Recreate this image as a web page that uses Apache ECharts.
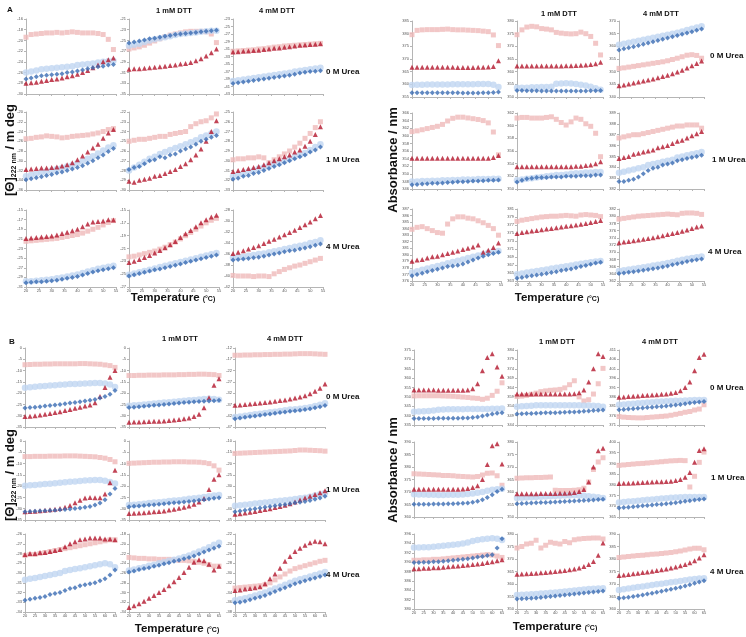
<!DOCTYPE html>
<html><head><meta charset="utf-8">
<script src="https://cdn.jsdelivr.net/npm/echarts@6/dist/echarts.min.js"></script>
<style>html,body{margin:0;padding:0;background:#fff}#c{width:746px;height:637px}</style>
</head><body><div id="c"></div><script>
// ---------- DATA ----------
const tempA = [20,22,24,26,28,30,32,34,36,38,40,42,44,46,48,50,52,54];
const tempB = [20,22.5,25,27.5,30,32.5,35,37.5,40,42.5,45,47.5,50,52.5,55,57.5,60,62.5,65];
const colTitles = ['', '1 mM DTT', '4 mM DTT'];
const rowTitles = ['0 M Urea', '1 M Urea', '4 M Urea'];
// each subplot: [pink squares, light-blue circles, red triangles, dark-blue diamonds]
// ---- Panel A, CD ----
const cdA_u0_d0 = [
 [-19.4,-18.9,-18.8,-18.7,-18.6,-18.6,-18.5,-18.6,-18.5,-18.4,-18.5,-18.6,-18.6,-18.6,-18.7,-18.9,-19.8,-21.7],
 [-26.0,-25.8,-25.6,-25.4,-25.3,-25.2,-25.1,-25.0,-24.9,-24.8,-24.6,-24.5,-24.4,-24.3,-24.1,-24.0,-23.9,-23.8],
 [-28.0,-27.9,-27.8,-27.6,-27.5,-27.3,-27.2,-27.0,-26.8,-26.6,-26.3,-26.0,-25.6,-25.1,-24.6,-24.0,-23.6,-23.3],
 [-27.2,-27.0,-26.8,-26.6,-26.5,-26.4,-26.3,-26.2,-26.0,-25.9,-25.7,-25.5,-25.3,-25.1,-24.9,-24.8,-24.6,-24.5]];
const cdA_u0_d1 = [
 [-26.6,-26.4,-26.2,-25.9,-25.5,-25.1,-24.7,-24.3,-24.0,-23.8,-23.6,-23.4,-23.3,-23.3,-23.3,-23.4,-23.8,-25.4],
 [-26.0,-25.8,-25.6,-25.3,-25.0,-24.8,-24.6,-24.4,-24.2,-24.0,-23.8,-23.7,-23.6,-23.5,-23.4,-23.3,-23.2,-23.2],
 [-30.4,-30.3,-30.3,-30.2,-30.1,-30.0,-29.9,-29.8,-29.7,-29.6,-29.4,-29.3,-29.1,-28.8,-28.4,-27.9,-27.3,-26.6],
 [-25.5,-25.3,-25.1,-24.9,-24.7,-24.6,-24.4,-24.2,-24.1,-23.9,-23.8,-23.7,-23.6,-23.5,-23.4,-23.3,-23.2,-23.1]];
const cdA_u0_d4 = [
 [-31.6,-31.5,-31.4,-31.3,-31.2,-31.0,-30.9,-30.7,-30.5,-30.4,-30.2,-30.1,-30.0,-29.9,-29.8,-29.7,-29.6,-29.5],
 [-39.5,-39.3,-39.1,-38.9,-38.7,-38.5,-38.3,-38.1,-37.9,-37.7,-37.5,-37.3,-37.0,-36.8,-36.6,-36.4,-36.2,-36.0],
 [-31.8,-31.7,-31.6,-31.5,-31.4,-31.3,-31.1,-31.0,-30.8,-30.7,-30.5,-30.4,-30.2,-30.0,-29.9,-29.8,-29.7,-29.6],
 [-40.2,-40.0,-39.8,-39.6,-39.4,-39.2,-39.0,-38.8,-38.6,-38.4,-38.2,-38.0,-37.7,-37.4,-37.2,-37.0,-36.9,-36.8]];
const cdA_u1_d0 = [
 [-25.5,-25.4,-25.2,-25.1,-24.9,-25.0,-25.1,-25.3,-25.2,-25.0,-24.9,-24.8,-24.7,-24.5,-24.3,-24.0,-23.6,-23.4],
 [-33.2,-32.9,-32.6,-32.4,-32.2,-32.0,-31.7,-31.5,-31.2,-30.9,-30.5,-30.1,-29.6,-29.1,-28.5,-27.9,-27.3,-26.8],
 [-31.8,-31.7,-31.6,-31.5,-31.5,-31.4,-31.3,-31.1,-30.8,-30.4,-29.8,-29.0,-28.2,-27.4,-26.6,-25.4,-24.3,-23.6],
 [-33.9,-33.7,-33.5,-33.3,-33.0,-32.8,-32.5,-32.3,-32.0,-31.7,-31.4,-31.0,-30.5,-30.0,-29.4,-28.8,-28.1,-27.5]];
const cdA_u1_d1 = [
 [-25.0,-24.9,-24.8,-24.8,-24.7,-24.6,-24.5,-24.5,-24.3,-24.2,-24.1,-24.0,-23.5,-23.2,-23.0,-22.9,-22.6,-22.2],
 [-28.0,-27.7,-27.4,-27.1,-26.8,-26.6,-26.3,-26.1,-25.9,-25.7,-25.5,-25.3,-25.1,-24.9,-24.6,-24.4,-24.2,-24.0],
 [-29.1,-29.2,-29.0,-28.9,-28.8,-28.6,-28.5,-28.3,-28.1,-27.9,-27.6,-27.3,-26.9,-26.4,-25.8,-25.0,-24.0,-22.9],
 [-27.9,-27.7,-27.6,-27.3,-27.0,-26.9,-26.6,-26.7,-26.4,-26.3,-26.0,-25.8,-25.6,-25.3,-25.0,-24.8,-24.6,-24.4]];
const cdA_u1_d4 = [
 [-29.9,-29.8,-29.8,-29.7,-29.7,-29.6,-29.7,-30.2,-29.9,-29.6,-29.3,-29.0,-28.6,-28.2,-27.7,-27.2,-26.6,-26.0],
 [-31.6,-31.4,-31.3,-31.1,-31.0,-30.8,-30.7,-30.5,-30.3,-30.2,-30.0,-29.8,-29.6,-29.4,-29.2,-28.9,-28.6,-28.3],
 [-31.1,-31.0,-30.9,-30.8,-30.7,-30.6,-30.4,-30.2,-30.0,-29.8,-29.6,-29.4,-29.1,-28.9,-28.5,-28.0,-27.3,-26.5],
 [-31.9,-31.8,-31.6,-31.5,-31.3,-31.2,-31.0,-30.8,-30.6,-30.4,-30.2,-30.0,-29.8,-29.6,-29.4,-29.1,-28.9,-28.6]];
const cdA_u4_d0 = [
 [-21.5,-21.4,-21.3,-21.2,-21.1,-21.0,-20.9,-20.7,-20.5,-20.3,-20.1,-19.8,-19.4,-19.0,-18.6,-18.1,-17.6,-17.2],
 [-29.8,-29.8,-29.7,-29.6,-29.5,-29.4,-29.2,-29.0,-28.8,-28.6,-28.4,-28.1,-27.8,-27.5,-27.2,-27.0,-26.8,-26.6],
 [-20.9,-20.8,-20.7,-20.6,-20.5,-20.4,-20.2,-19.9,-19.6,-19.3,-19.0,-18.5,-17.9,-17.5,-17.4,-17.3,-17.0,-17.1],
 [-30.1,-30.0,-29.9,-29.9,-29.8,-29.7,-29.6,-29.4,-29.2,-29.0,-28.8,-28.5,-28.2,-27.9,-27.6,-27.4,-27.2,-27.0]];
const cdA_u4_d1 = [
 [-22.3,-22.2,-22.0,-21.8,-21.6,-21.4,-21.1,-20.8,-20.4,-20.0,-19.5,-19.0,-18.5,-18.0,-17.5,-17.0,-16.6,-16.3],
 [-25.1,-24.9,-24.7,-24.5,-24.3,-24.1,-23.9,-23.7,-23.5,-23.3,-23.1,-22.9,-22.7,-22.5,-22.3,-22.1,-21.9,-21.7],
 [-23.2,-23.0,-22.7,-22.4,-22.1,-21.7,-21.3,-20.9,-20.4,-19.9,-19.3,-18.7,-18.2,-17.6,-17.0,-16.5,-16.1,-15.8],
 [-25.3,-25.1,-24.9,-24.7,-24.5,-24.3,-24.2,-24.0,-23.8,-23.6,-23.4,-23.2,-23.0,-22.8,-22.6,-22.4,-22.2,-22.0]];
const cdA_u4_d4 = [
 [-39.9,-40.0,-40.0,-40.0,-40.1,-40.0,-40.0,-40.1,-39.6,-39.2,-38.8,-38.5,-38.2,-38.0,-37.7,-37.4,-37.1,-36.8],
 [-36.7,-36.6,-36.5,-36.3,-36.2,-36.0,-35.9,-35.7,-35.5,-35.3,-35.1,-34.9,-34.7,-34.5,-34.3,-34.0,-33.8,-33.5],
 [-35.9,-35.7,-35.4,-35.1,-34.8,-34.5,-34.1,-33.7,-33.3,-32.9,-32.5,-32.1,-31.7,-31.2,-30.7,-30.2,-29.6,-29.0],
 [-37.1,-37.0,-36.9,-36.8,-36.7,-36.6,-36.4,-36.2,-36.0,-35.8,-35.6,-35.4,-35.3,-35.1,-34.9,-34.7,-34.4,-34.2]];
const cdA_yAxes = [[-30,-16,2],[-35,-21,2],[-43,-23,2],[-36,-20,2],[-30,-22,1],[-33,-25,1],[-31,-15,2],[-27,-15,2],[-42,-28,2]];

// ---- Panel A, absorbance ----
const absA_u0_d0 = [
 [379.6,381.3,381.5,381.6,381.6,381.6,381.7,381.8,381.6,381.5,381.5,381.4,381.3,381.2,381.0,380.8,379.5,375.3],
 [359.7,359.8,359.8,359.9,359.9,359.9,359.9,359.9,360.0,360.0,360.0,360.0,360.0,360.1,360.1,360.1,359.8,358.9],
 [366.7,366.7,366.7,366.7,366.7,366.7,366.7,366.7,366.7,366.6,366.6,366.6,366.6,366.7,366.7,366.8,367.0,369.3],
 [356.7,356.7,356.7,356.7,356.7,356.7,356.7,356.7,356.7,356.7,356.6,356.6,356.6,356.6,356.7,356.7,356.8,357.0]];
const absA_u0_d1 = [
 [374.6,376.5,377.6,377.9,377.7,377.0,376.8,376.5,375.5,375.2,375.0,374.9,375.0,375.6,375.0,373.9,371.2,366.6],
 [353.7,353.7,353.7,353.8,353.8,353.9,353.9,354.0,355.2,355.3,355.4,355.3,355.1,354.8,354.5,354.0,353.5,352.9],
 [362.2,362.2,362.2,362.2,362.2,362.2,362.2,362.2,362.2,362.2,362.3,362.3,362.4,362.5,362.6,362.8,363.1,363.7],
 [352.6,352.6,352.5,352.5,352.5,352.4,352.4,352.4,352.4,352.4,352.4,352.4,352.4,352.4,352.4,352.5,352.5,352.6]];
const absA_u0_d4 = [
 [351.3,351.5,351.8,352.1,352.4,352.7,353.0,353.3,353.6,353.9,354.3,354.8,355.3,355.9,356.5,356.7,356.4,355.3],
 [360.6,361.0,361.4,361.8,362.2,362.6,363.0,363.4,363.8,364.2,364.6,365.0,365.4,365.9,366.4,366.9,367.4,367.9],
 [344.4,344.7,345.1,345.5,345.9,346.3,346.7,347.1,347.6,348.1,348.6,349.2,349.9,350.6,351.4,352.3,353.2,354.2],
 [358.6,359.0,359.4,359.8,360.3,360.8,361.3,361.8,362.3,362.8,363.3,363.8,364.3,364.8,365.3,365.8,366.3,366.8]];
const absA_u1_d0 = [
 [361.1,361.3,361.6,361.9,362.2,362.5,363.0,363.9,364.6,364.9,364.9,364.7,364.5,364.3,364.0,363.4,361.0,355.0],
 [348.0,348.0,348.1,348.1,348.2,348.2,348.3,348.3,348.4,348.4,348.5,348.5,348.5,348.6,348.6,348.6,348.7,348.7],
 [354.1,354.1,354.1,354.1,354.1,354.1,354.1,354.1,354.1,354.1,354.1,354.1,354.1,354.1,354.1,354.1,354.3,354.8],
 [347.1,347.2,347.3,347.4,347.5,347.5,347.6,347.7,347.8,347.9,347.9,348.0,348.1,348.1,348.2,348.3,348.3,348.4]];
const absA_u1_d1 = [
 [361.2,361.3,361.3,361.2,361.2,361.2,361.3,361.4,361.0,360.5,360.1,360.6,361.2,361.0,360.3,359.9,358.8,355.1],
 [351.4,351.5,351.6,351.7,351.8,351.9,352.0,352.1,352.2,352.2,352.3,352.4,352.5,352.5,352.6,352.6,352.7,352.7],
 [353.5,353.5,353.5,353.5,353.5,353.5,353.5,353.5,353.5,353.5,353.5,353.5,353.6,353.6,353.7,353.8,354.0,354.3],
 [351.1,351.4,351.6,351.7,351.8,351.8,351.8,351.9,351.9,351.9,352.0,352.0,352.0,352.1,352.1,352.1,352.2,352.2]];
const absA_u1_d4 = [
 [386.7,386.8,386.9,387.0,387.0,387.1,387.2,387.3,387.4,387.5,387.6,387.7,387.8,387.8,387.9,387.9,387.9,387.6],
 [383.5,383.6,383.7,383.8,383.9,384.0,384.2,384.3,384.4,384.5,384.6,384.7,384.9,385.0,385.1,385.2,385.3,385.4],
 [384.8,384.9,385.0,385.2,385.3,385.4,385.5,385.6,385.8,385.9,386.0,386.2,386.4,386.5,386.7,386.9,387.1,387.3],
 [382.7,382.7,382.8,382.9,383.1,383.4,383.7,383.9,384.0,384.2,384.3,384.4,384.6,384.7,384.8,384.9,385.0,385.1]];
const absA_u4_d0 = [
 [383.9,384.2,384.3,384.0,383.7,383.4,383.3,384.7,385.5,385.8,385.8,385.6,385.5,385.2,384.9,384.5,384.0,383.0],
 [377.3,377.5,377.7,377.9,378.1,378.3,378.5,378.7,378.9,379.1,379.3,379.5,379.7,379.9,380.1,380.3,380.5,380.6],
 [379.0,379.2,379.3,379.5,379.7,379.8,380.0,380.2,380.4,380.6,380.8,381.0,381.2,381.5,380.4,380.7,381.1,381.8],
 [376.8,377.0,377.2,377.4,377.6,377.8,378.0,378.2,378.3,378.4,378.6,378.9,379.2,379.5,379.8,380.0,380.2,380.4]];
const absA_u4_d1 = [
 [377.9,378.2,378.4,378.6,378.8,379.0,379.1,379.2,379.2,379.3,379.4,379.3,379.2,379.5,379.6,379.5,379.4,379.1],
 [364.7,364.9,365.1,365.3,365.5,365.7,365.9,366.1,366.3,366.5,366.7,366.9,367.1,367.3,367.5,367.7,367.9,368.0],
 [374.9,375.1,375.3,375.5,375.6,375.8,376.0,376.1,376.3,376.5,376.7,376.8,377.0,377.2,377.4,377.6,377.9,378.1],
 [363.7,363.9,364.1,364.3,364.5,364.7,364.9,365.1,365.3,365.6,365.8,366.0,366.3,366.6,366.9,367.2,367.5,367.7]];
const absA_u4_d4 = [
 [379.2,379.4,379.6,379.8,380.0,380.1,380.2,380.3,380.4,380.5,380.6,380.5,380.4,380.8,380.9,380.9,380.8,380.5],
 [364.8,365.0,365.2,365.4,365.6,365.8,366.0,366.3,366.5,366.7,367.0,367.3,367.6,367.9,368.2,368.4,368.6,368.8],
 [372.6,372.8,373.0,373.2,373.4,373.6,373.8,374.0,374.3,374.6,374.9,375.2,375.5,375.8,376.2,376.6,377.0,377.3],
 [364.1,364.2,364.4,364.6,364.8,365.0,365.2,365.4,365.6,365.9,366.2,366.5,366.8,367.1,367.4,367.7,367.9,368.1]];
const absA_yAxes = [[355,385,5],[350,380,5],[340,370,5],[346,366,2],[350,362,2],[382,389,1],[376,387,1],[363,381,2],[362,382,2]];

// ---- Panel B, CD ----
const cdB_u0_d0 = [
 [-7.4,-7.3,-7.2,-7.2,-7.1,-7.1,-7.0,-7.0,-7.0,-7.0,-7.0,-6.9,-6.9,-7.0,-7.1,-7.2,-7.5,-7.8,-8.6],
 [-17.6,-17.4,-17.2,-17.0,-16.8,-16.6,-16.5,-16.3,-16.2,-16.0,-15.9,-15.8,-15.7,-15.6,-15.5,-15.5,-15.7,-16.2,-17.3],
 [-30.4,-30.2,-30.0,-29.7,-29.4,-29.0,-28.6,-28.2,-27.7,-27.2,-26.7,-26.2,-25.7,-25.2,-24.3,-21.5,-17.5,-13.0,-10.0],
 [-26.6,-26.4,-26.2,-26.0,-25.7,-25.5,-25.2,-25.0,-24.7,-24.4,-24.1,-23.8,-23.5,-23.2,-22.8,-22.2,-21.5,-20.5,-18.8]];
const cdB_u0_d1 = [
 [-12.2,-12.2,-12.1,-12.1,-12.0,-12.0,-12.0,-11.9,-11.9,-11.9,-11.8,-11.8,-11.7,-11.7,-11.6,-11.6,-11.7,-11.8,-12.2],
 [-25.6,-25.4,-25.2,-25.0,-24.8,-24.6,-24.4,-24.2,-24.0,-23.8,-23.6,-23.4,-23.2,-23.0,-22.8,-22.6,-22.5,-22.6,-22.9],
 [-32.9,-32.8,-32.8,-32.7,-32.6,-32.5,-32.4,-32.3,-32.1,-31.9,-31.7,-31.4,-31.0,-30.4,-29.3,-26.5,-22.0,-16.5,-13.6],
 [-26.4,-26.2,-26.0,-25.8,-25.6,-25.4,-25.2,-25.0,-24.8,-24.6,-24.4,-24.2,-24.0,-23.8,-23.7,-23.6,-23.5,-23.4,-23.2]];
const cdB_u0_d4 = [
 [-15.2,-15.2,-15.1,-15.1,-15.0,-15.0,-14.9,-14.9,-14.8,-14.8,-14.7,-14.7,-14.6,-14.5,-14.5,-14.5,-14.6,-14.7,-14.8],
 [-42.6,-42.3,-42.0,-41.7,-41.4,-41.1,-40.8,-40.5,-40.2,-39.9,-39.6,-39.3,-39.1,-38.9,-38.6,-38.2,-37.7,-37.1,-36.5],
 [-37.4,-37.2,-37.0,-36.8,-36.6,-36.4,-36.1,-35.9,-35.6,-35.3,-35.0,-34.6,-34.2,-33.7,-33.1,-32.3,-31.2,-29.8,-28.0],
 [-43.3,-43.0,-42.7,-42.4,-42.1,-41.8,-41.5,-41.2,-40.9,-40.6,-40.3,-40.0,-39.8,-39.6,-39.3,-38.9,-38.5,-38.0,-37.5]];
const cdB_u1_d0 = [
 [-6.9,-6.9,-6.8,-6.8,-6.8,-6.7,-6.7,-6.7,-6.6,-6.6,-6.6,-6.7,-6.8,-6.9,-7.0,-7.3,-7.6,-8.2,-9.2],
 [-19.8,-19.6,-19.5,-19.3,-19.1,-18.9,-18.7,-18.5,-18.3,-18.1,-17.9,-17.7,-17.5,-17.4,-17.3,-17.3,-17.6,-18.2,-18.8],
 [-31.3,-31.2,-31.1,-30.9,-30.7,-30.5,-30.2,-29.9,-29.4,-28.6,-27.4,-26.2,-25.3,-25.0,-25.1,-25.1,-23.5,-18.5,-13.0],
 [-31.3,-31.2,-31.1,-31.0,-30.9,-30.8,-30.7,-30.5,-30.3,-30.1,-29.9,-29.7,-29.4,-29.0,-28.4,-27.5,-26.0,-23.5,-21.0]];
const cdB_u1_d1 = [
 [-9.9,-9.8,-9.7,-9.6,-9.5,-9.4,-9.4,-9.3,-9.3,-9.2,-9.2,-9.2,-9.3,-9.3,-9.4,-9.6,-10.0,-11.0,-12.9],
 [-28.4,-28.2,-28.0,-27.8,-27.5,-27.3,-27.1,-26.9,-26.6,-26.4,-26.2,-25.9,-25.6,-25.4,-25.1,-24.8,-24.5,-24.2,-23.9],
 [-32.1,-32.0,-31.9,-31.8,-31.6,-31.4,-31.2,-31.0,-30.6,-30.2,-29.8,-29.4,-28.8,-28.0,-27.0,-25.5,-21.5,-17.0,-15.0],
 [-29.1,-28.9,-28.8,-28.6,-28.4,-28.2,-28.0,-27.8,-27.6,-27.4,-27.2,-27.0,-26.8,-26.6,-26.3,-26.0,-25.7,-25.4,-25.1]];
const cdB_u1_d4 = [
 [-15.5,-15.4,-15.3,-15.2,-15.1,-15.0,-14.9,-14.8,-14.7,-14.6,-14.5,-14.4,-14.2,-14.0,-14.0,-14.1,-14.2,-14.3,-14.5],
 [-38.7,-38.5,-38.2,-38.0,-37.7,-37.5,-37.2,-37.0,-36.7,-36.5,-36.2,-36.0,-35.7,-35.4,-35.1,-34.7,-34.2,-33.6,-33.0],
 [-42.5,-42.2,-41.9,-41.6,-41.2,-40.8,-40.4,-40.0,-39.5,-39.0,-38.5,-37.8,-37.0,-36.1,-35.3,-34.5,-33.7,-32.9,-32.0],
 [-41.3,-41.0,-40.7,-40.4,-40.0,-39.7,-39.4,-39.0,-38.7,-38.4,-38.1,-37.8,-37.4,-37.1,-36.8,-36.4,-35.8,-35.2,-34.5]];
const cdB_u4_d0 = [
 [-28.2,-28.1,-28.1,-28.0,-27.9,-27.8,-27.7,-27.6,-27.5,-27.4,-27.3,-27.2,-27.1,-27.0,-26.9,-26.8,-26.7,-26.6,-26.6],
 [-30.7,-30.6,-30.5,-30.4,-30.3,-30.2,-30.1,-30.0,-29.8,-29.7,-29.6,-29.5,-29.4,-29.3,-29.2,-29.1,-29.0,-29.1,-29.4],
 [-28.1,-28.0,-28.0,-27.9,-27.9,-27.8,-27.7,-27.6,-27.3,-27.0,-26.8,-26.6,-26.5,-26.4,-26.4,-26.4,-26.5,-26.5,-26.6],
 [-32.8,-32.7,-32.6,-32.5,-32.4,-32.2,-32.1,-32.0,-31.8,-31.6,-31.5,-31.3,-31.2,-31.1,-31.0,-30.8,-30.6,-30.2,-29.7]];
const cdB_u4_d1 = [
 [-22.8,-22.9,-23.0,-23.0,-23.1,-23.1,-23.2,-23.2,-23.2,-23.3,-23.4,-23.4,-23.5,-23.6,-23.8,-24.0,-24.3,-24.6,-24.6],
 [-25.5,-25.3,-25.0,-24.8,-24.5,-24.3,-24.0,-23.8,-23.5,-23.3,-23.0,-22.7,-22.4,-22.0,-21.6,-21.2,-20.7,-20.2,-19.8],
 [-33.1,-32.7,-32.3,-31.8,-31.2,-30.6,-30.0,-29.4,-28.6,-27.8,-26.9,-25.9,-24.8,-23.8,-23.3,-23.5,-24.2,-25.4,-24.6],
 [-25.8,-25.6,-25.3,-25.1,-24.9,-24.6,-24.4,-24.1,-23.9,-23.6,-23.4,-23.1,-22.8,-22.5,-22.1,-21.7,-21.3,-20.9,-20.5]];
const cdB_u4_d4 = [
 [-33.1,-33.0,-32.9,-32.8,-32.7,-32.6,-32.4,-32.0,-31.4,-30.8,-30.2,-29.6,-29.1,-28.8,-28.5,-28.2,-27.9,-27.6,-27.4],
 [-35.6,-35.4,-35.2,-34.9,-34.6,-34.3,-34.0,-33.6,-33.2,-32.8,-32.4,-32.0,-31.6,-31.3,-31.0,-30.7,-30.4,-30.1,-29.8],
 [-33.6,-33.5,-33.3,-33.2,-33.0,-32.8,-32.2,-31.2,-30.2,-29.0,-27.6,-26.6,-25.6,-24.9,-24.3,-23.8,-23.5,-23.6,-24.0],
 [-36.1,-36.0,-35.8,-35.5,-35.2,-34.9,-34.6,-34.2,-33.8,-33.4,-33.0,-32.6,-32.2,-31.9,-31.6,-31.3,-31.0,-30.7,-30.4]];
const cdB_yAxes = [[-35,0,5],[-35,0,5],[-47,-12,5],[-35,0,5],[-35,0,5],[-45,-10,5],[-34,-26,1],[-34,-18,2],[-38,-22,2]];

// ---- Panel B, absorbance ----
const absB_u0_d0 = [
 [350.5,350.6,350.6,350.6,350.6,350.6,350.5,350.4,350.3,350.1,349.9,349.7,349.4,349.2,348.7,349.3,350.8,353.0,357.5],
 [342.1,342.2,342.3,342.5,342.8,343.2,343.3,343.4,343.4,343.4,343.4,343.5,343.5,343.5,343.5,343.6,343.7,343.7,343.8],
 [353.7,353.7,353.7,353.7,353.7,353.6,353.6,353.6,353.6,353.6,353.6,353.7,354.3,357.0,364.0,371.0,373.0,366.0,361.0],
 [338.5,338.5,338.5,338.5,338.5,338.6,338.6,338.6,338.6,338.6,338.7,338.8,339.0,339.3,339.8,340.4,340.9,341.3,341.5]];
const absB_u0_d1 = [
 [359.2,359.4,359.8,360.4,361.0,361.8,362.2,362.5,362.7,363.0,363.8,365.5,367.6,359.0,356.8,357.5,360.5,366.0,374.2],
 [353.8,354.0,354.1,354.3,354.5,354.6,354.6,354.6,354.6,354.6,354.6,354.6,354.5,354.5,354.4,354.4,354.3,354.1,353.8],
 [360.6,360.6,360.6,360.6,360.6,360.6,360.6,360.6,360.6,360.6,360.6,360.6,360.7,361.2,362.7,367.0,374.0,382.0,380.5],
 [349.9,350.0,350.1,350.2,350.3,350.4,350.5,350.5,350.6,350.7,350.8,350.9,351.0,351.1,351.3,351.5,351.7,351.9,352.0]];
const absB_u0_d4 = [
 [375.5,375.2,375.0,374.9,374.8,374.8,375.0,375.2,375.4,375.6,375.8,376.2,376.7,377.2,377.8,378.2,379.0,379.5,381.8],
 [381.8,382.0,382.2,382.4,382.6,382.8,383.0,383.2,383.4,383.5,383.7,383.8,383.9,384.0,384.1,384.2,384.3,384.3,384.4],
 [385.8,386.0,386.2,386.4,386.5,386.7,386.9,387.0,387.2,387.4,387.6,387.9,388.3,389.3,391.0,394.0,400.0,407.0,408.8],
 [379.1,379.3,379.5,379.7,379.9,380.1,380.3,380.5,380.7,380.9,381.1,381.4,381.7,382.0,382.3,382.7,383.0,383.3,383.6]];
const absB_u1_d0 = [
 [377.3,377.2,377.1,377.0,376.9,376.8,376.6,376.6,376.5,376.3,376.2,376.1,376.0,376.2,376.8,377.5,377.6,376.5,372.7],
 [369.1,369.0,369.0,368.9,368.9,368.8,368.8,368.9,368.9,368.9,369.0,369.2,369.4,369.7,370.0,370.5,370.9,371.1,371.3],
 [371.1,371.1,371.1,371.1,371.1,371.1,371.1,371.1,371.1,371.1,371.2,371.4,371.8,372.5,375.0,381.0,388.5,389.3,381.2],
 [365.1,365.1,365.1,365.1,365.2,365.2,365.2,365.3,365.3,365.4,365.5,365.6,365.9,366.3,366.9,367.8,368.9,370.2,371.1]];
const absB_u1_d1 = [
 [365.5,365.6,365.7,365.7,365.8,365.8,365.9,366.0,360.7,360.6,360.6,360.6,360.7,360.9,361.5,364.0,369.0,372.0,373.7],
 [357.6,357.7,357.8,357.9,358.0,358.1,358.2,358.3,358.4,358.5,358.6,358.6,358.7,358.6,358.5,358.3,358.1,357.9,357.6],
 [359.3,359.3,359.3,359.3,359.3,359.4,359.4,359.4,359.4,359.5,359.5,359.6,359.8,360.2,361.0,364.0,370.0,376.5,377.5],
 [355.3,355.4,355.5,355.6,355.7,355.8,355.8,355.9,356.0,356.1,356.2,356.3,356.4,356.5,356.6,356.7,356.8,357.0,357.1]];
const absB_u1_d4 = [
 [389.1,389.3,389.5,389.7,389.9,390.0,390.2,390.4,390.6,390.8,391.0,391.2,391.3,391.4,391.3,379.0,384.0,390.5,395.3],
 [371.8,372.0,372.2,372.4,372.6,372.8,373.0,373.2,373.4,373.6,373.8,374.0,374.1,374.2,374.3,374.3,374.3,374.3,374.3],
 [380.6,380.7,380.8,380.9,381.0,381.1,381.2,381.3,381.4,381.5,381.6,381.7,382.0,382.5,383.5,385.8,390.5,396.0,396.9],
 [369.2,369.4,369.6,369.8,370.0,370.2,370.4,370.6,370.8,371.0,371.2,371.4,371.7,372.0,372.3,372.6,372.9,373.2,373.4]];
const absB_u4_d0 = [
 [390.4,390.4,390.5,390.5,390.6,390.6,390.7,390.8,390.9,391.0,391.1,391.2,391.3,391.4,391.5,391.6,391.5,391.3,391.0],
 [393.1,393.1,393.2,393.2,393.3,393.4,393.5,393.6,393.7,393.8,394.0,394.2,394.5,394.7,394.9,395.0,395.1,395.0,394.7],
 [388.6,388.6,388.7,388.7,388.8,388.8,388.9,389.0,389.1,389.2,389.3,389.4,389.5,389.6,389.7,389.9,390.1,390.3,390.5],
 [389.9,389.9,390.0,390.0,390.1,390.1,390.2,390.3,390.4,390.5,390.6,390.7,390.9,391.1,391.2,391.4,391.6,393.0,395.0]];
const absB_u4_d1 = [
 [374.4,375.0,376.0,376.3,377.5,374.4,375.5,376.7,376.3,376.0,377.0,376.5,377.7,378.0,378.2,378.3,378.4,378.4,378.0],
 [355.6,355.7,355.8,355.9,356.0,356.2,356.3,356.5,356.6,356.8,357.0,357.2,357.4,357.6,357.8,358.0,358.1,358.2,358.3],
 [363.9,364.0,364.1,364.2,364.3,364.5,364.6,364.8,365.0,365.2,365.4,365.7,366.0,366.4,367.0,367.8,369.0,371.5,376.4],
 [354.0,354.1,354.2,354.3,354.4,354.6,354.8,355.0,355.2,355.4,355.6,355.8,356.0,356.2,356.4,356.6,356.8,357.0,357.2]];
const absB_u4_d4 = [
 [380.6,380.8,381.0,381.2,381.4,381.5,381.7,381.9,382.0,382.2,382.4,382.6,382.9,383.2,383.6,384.0,384.3,384.3,383.7],
 [367.6,367.9,368.2,368.5,368.8,369.0,369.3,369.6,369.9,370.1,370.4,370.7,370.9,371.2,371.5,371.8,372.0,372.2,372.3],
 [373.4,373.6,373.8,374.1,374.3,374.6,374.8,375.1,375.4,375.7,376.0,376.4,376.8,377.3,377.8,378.5,379.3,380.4,381.7],
 [364.3,364.5,364.7,365.0,365.3,365.6,366.0,366.3,366.7,367.1,367.5,367.9,368.3,368.7,369.2,369.7,370.3,370.8,371.3]];
const absB_yAxes = [[335,375,5],[344,384,5],[371,411,5],[360,390,5],[350,380,5],[365,400,5],[380,396,2],[350,380,5],[360,390,5]];

// ---------- LAYOUT ----------
const FONT = '"Liberation Sans", Arial, sans-serif';
const panels = [
  {temps: tempA, xMax: 55, cols: [[26,90],[129,90],[233,90]], rows: [[19,75],[112,78],[210,77]],
   sets: [cdA_u0_d0,cdA_u0_d1,cdA_u0_d4,cdA_u1_d0,cdA_u1_d1,cdA_u1_d4,cdA_u4_d0,cdA_u4_d1,cdA_u4_d4], y: cdA_yAxes},
  {temps: tempA, xMax: 55, cols: [[412,89],[517,86],[619,85]], rows: [[21,76],[113,76],[209,72]],
   sets: [absA_u0_d0,absA_u0_d1,absA_u0_d4,absA_u1_d0,absA_u1_d1,absA_u1_d4,absA_u4_d0,absA_u4_d1,absA_u4_d4], y: absA_yAxes},
  {temps: tempB, xMax: 65, cols: [[25,90],[129,90],[235,90]], rows: [[348,79],[441,79],[534,78]],
   sets: [cdB_u0_d0,cdB_u0_d1,cdB_u0_d4,cdB_u1_d0,cdB_u1_d1,cdB_u1_d4,cdB_u4_d0,cdB_u4_d1,cdB_u4_d4], y: cdB_yAxes},
  {temps: tempB, xMax: 65, cols: [[414,88],[517,86],[619,85]], rows: [[350,75],[442,75],[534,75]],
   sets: [absB_u0_d0,absB_u0_d1,absB_u0_d4,absB_u1_d0,absB_u1_d1,absB_u1_d4,absB_u4_d0,absB_u4_d1,absB_u4_d4], y: absB_yAxes}
];
const styles = [
  {symbol: 'rect', size: 5, color: '#efb9b9'},
  {symbol: 'circle', size: 6.5, color: '#c0d6f1'},
  {symbol: 'triangle', size: 5, color: '#b3152c'},
  {symbol: 'diamond', size: 5, color: '#3a6cb3'}
];
const grids = [], xAxes = [], yAxes = [], series = [];
const axisCol = '#b5b5b5';
panels.forEach(p => {
  p.sets.forEach((set, i) => {
    const r = Math.floor(i / 3), c = i % 3;
    const gi = grids.length;
    grids.push({left: p.cols[c][0], width: p.cols[c][1], top: p.rows[r][0], height: p.rows[r][1]});
    xAxes.push({gridIndex: gi, type: 'value', min: 20, max: p.xMax, interval: 5,
      axisLine: {show: true, onZero: false, lineStyle: {color: axisCol, width: 1}},
      axisTick: {show: true, length: 2, lineStyle: {color: axisCol}},
      axisLabel: {show: r === 2, fontSize: 4, color: '#555', margin: 2, fontFamily: FONT},
      splitLine: {show: false}});
    const [mn, mx, iv] = p.y[i];
    yAxes.push({gridIndex: gi, type: 'value', min: mn, max: mx, interval: iv,
      axisLine: {show: true, onZero: false, lineStyle: {color: axisCol, width: 1}},
      axisTick: {show: true, length: 2, lineStyle: {color: axisCol}},
      axisLabel: {fontSize: 4, color: '#555', margin: 3, fontFamily: FONT},
      splitLine: {show: false}});
    set.forEach((vals, k) => {
      series.push({type: 'scatter', xAxisIndex: gi, yAxisIndex: gi, symbol: styles[k].symbol,
        symbolSize: styles[k].size, itemStyle: {color: styles[k].color}, silent: true,
        data: vals.map((v, j) => [p.temps[j], v])});
    });
  });
});

function txt(x, y, text, size, opts) {
  opts = opts || {};
  return {type: 'text', x: x, y: y, rotation: opts.rot || 0, z: 100,
    style: Object.assign({text: text, font: 'bold ' + size + 'px ' + FONT, fill: '#111',
      textAlign: opts.align || 'center', textVerticalAlign: 'middle'}, opts.style || {})};
}
const richY = {
  b: {fontSize: 13, fontWeight: 'bold', fontFamily: FONT, fill: '#111'},
  s: {fontSize: 7, fontWeight: 'bold', fontFamily: FONT, fill: '#111', padding: [8, 0, 0, 0]}
};
const richT = {
  b: {fontSize: 11.5, fontWeight: 'bold', fontFamily: FONT, fill: '#111'},
  s: {fontSize: 7, fontWeight: 'bold', fontFamily: FONT, fill: '#111', padding: [2, 0, 0, 0]}
};
function rtxt(x, y, text, rich, rot) {
  return {type: 'text', x: x, y: y, rotation: rot || 0, z: 100,
    style: {text: text, rich: rich, textAlign: 'center', textVerticalAlign: 'middle'}};
}
const graphics = [
  txt(10, 10, 'A', 8), txt(12, 342, 'B', 8),
  // column titles
  txt(174, 11, colTitles[1], 7.5), txt(277, 11, colTitles[2], 7.5),
  txt(559, 14, colTitles[1], 7.5), txt(661, 14, colTitles[2], 7.5),
  txt(180, 339, colTitles[1], 7.5), txt(285, 339, colTitles[2], 7.5),
  txt(557, 342, colTitles[1], 7.5), txt(660, 342, colTitles[2], 7.5),
  // row titles
  txt(326, 72, rowTitles[0], 8, {align: 'left'}), txt(326, 160, rowTitles[1], 8, {align: 'left'}), txt(326, 247, rowTitles[2], 8, {align: 'left'}),
  txt(710, 56, rowTitles[0], 8, {align: 'left'}), txt(712, 160, rowTitles[1], 8, {align: 'left'}), txt(708, 252, rowTitles[2], 8, {align: 'left'}),
  txt(326, 397, rowTitles[0], 8, {align: 'left'}), txt(326, 490, rowTitles[1], 8, {align: 'left'}), txt(326, 575, rowTitles[2], 8, {align: 'left'}),
  txt(710, 388, rowTitles[0], 8, {align: 'left'}), txt(711, 478, rowTitles[1], 8, {align: 'left'}), txt(710, 572, rowTitles[2], 8, {align: 'left'}),
  // axis titles
  rtxt(10, 150, '{b|[Θ]}{s|222 nm}{b| / m deg}', richY, Math.PI / 2),
  rtxt(10, 475, '{b|[Θ]}{s|222 nm}{b| / m deg}', richY, Math.PI / 2),
  rtxt(393, 160, '{b|Absorbance / nm}', richY, Math.PI / 2),
  rtxt(393, 470, '{b|Absorbance / nm}', richY, Math.PI / 2),
  rtxt(173, 298, '{b|Temperature }{s|(°C)}', richT),
  rtxt(557, 298, '{b|Temperature }{s|(°C)}', richT),
  rtxt(177, 629, '{b|Temperature }{s|(°C)}', richT),
  rtxt(555, 627, '{b|Temperature }{s|(°C)}', richT)
];

const chart = echarts.init(document.getElementById('c'), null, {renderer: 'canvas', width: 746, height: 637});
chart.setOption({
  animation: false,
  backgroundColor: '#fff',
  grid: grids, xAxis: xAxes, yAxis: yAxes, series: series,
  graphic: graphics
});
</script></body></html>
